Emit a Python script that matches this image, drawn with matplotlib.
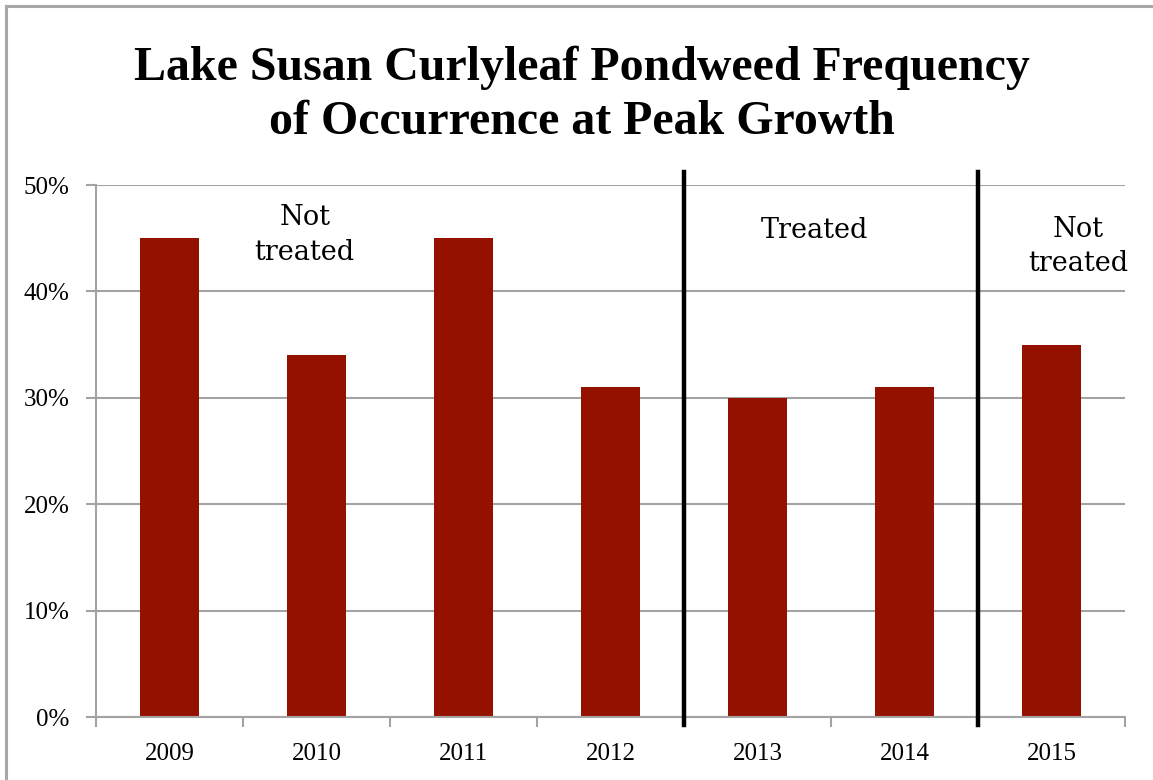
import matplotlib
matplotlib.use("Agg")
import matplotlib.pyplot as plt
from matplotlib.lines import Line2D
from matplotlib.ticker import FixedLocator, PercentFormatter

years = ["2009", "2010", "2011", "2012", "2013", "2014", "2015"]
frequency = [45, 34, 45, 31, 30, 31, 35]
dividers = [3.5, 5.5]
notes = [(0.92, 45.3, "Not\ntreated"), (4.39, 45.7, "Treated"), (6.18, 44.2, "Not\ntreated")]

SERIF = ["Liberation Serif", "DejaVu Serif"]
NOTE_FONT = ["DejaVu Serif"]
BAR = "#941100"
GRID = "#a3a3a3"

fig = plt.figure(figsize=(11.53, 7.8), dpi=100)
ax = fig.add_axes([96 / 1153, 1 - 717 / 780, (1125 - 96) / 1153, (717 - 185) / 780])

x = range(len(years))
ax.bar(x, frequency, width=0.40, color=BAR, zorder=3)

ax.set_xlim(-0.5, len(years) - 0.5)
ax.set_ylim(0, 50)
ax.yaxis.set_major_locator(FixedLocator(range(0, 51, 10)))
ax.yaxis.set_major_formatter(PercentFormatter(decimals=0))
ax.grid(axis="y", color=GRID, linewidth=1.5, zorder=0)

ax.set_xticks(list(x))
ax.set_xticklabels(years)
ax.set_xticks([i - 0.5 for i in range(len(years) + 1)], minor=True)
ax.tick_params(axis="x", which="major", length=0, pad=19)
ax.tick_params(axis="x", which="minor", length=7, width=1.5, color=GRID)
ax.tick_params(axis="y", length=7, width=1.5, color=GRID, pad=12)
for lab in ax.get_xticklabels() + ax.get_yticklabels():
    lab.set_family(SERIF)
    lab.set_fontsize(18)

for side in ["top", "right"]:
    ax.spines[side].set_visible(False)
for side in ["left", "bottom"]:
    ax.spines[side].set_color(GRID)
    ax.spines[side].set_linewidth(1.5)
    ax.spines[side].set_zorder(4)

for d in dividers:
    ax.plot([d, d], [51.2, -0.75], color="black", linewidth=3.2, clip_on=False, zorder=5)

for nx, ny, txt in notes:
    ax.text(nx, ny, txt, ha="center", va="center", family=NOTE_FONT, fontsize=19.5,
            linespacing=1.35, zorder=6)

fig.text(582 / 1153, 1 - 95 / 780, "Lake Susan Curlyleaf Pondweed Frequency\nof Occurrence at Peak Growth",
         ha="center", va="center", family=SERIF, fontsize=34.5, fontweight="bold", linespacing=1.3)

# frame around the chart area
fig.add_artist(Line2D([6 / 1153, 6 / 1153], [0, 1 - 6 / 780], color="#a8a8a8", linewidth=2.2))
fig.add_artist(Line2D([6 / 1153, 1], [1 - 6 / 780, 1 - 6 / 780], color="#a8a8a8", linewidth=2.2))

fig.savefig("out.png", dpi=100)
